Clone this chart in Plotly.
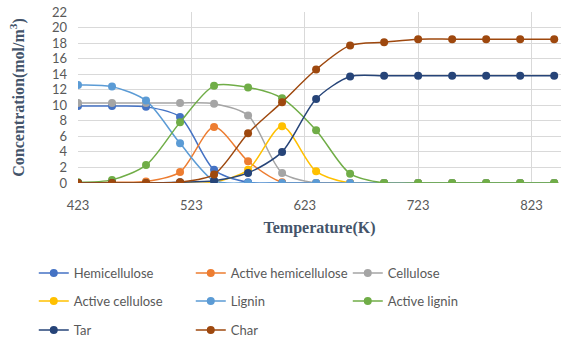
import plotly.graph_objects as go

temperature = [423, 453, 483, 513, 543, 573, 603, 633, 663, 693, 723, 753, 783, 813, 843]

hemicellulose = [9.9, 9.9, 9.8, 8.5, 1.7, 0.1, 0.0, 0.0, 0.0, 0.0, 0.0, 0.0, 0.0, 0.0, 0.0]
active_hemicellulose = [0.0, 0.1, 0.2, 1.4, 7.2, 2.8, 0.1, 0.0, 0.0, 0.0, 0.0, 0.0, 0.0, 0.0, 0.0]
cellulose = [10.3, 10.3, 10.3, 10.3, 10.2, 8.7, 1.3, 0.0, 0.0, 0.0, 0.0, 0.0, 0.0, 0.0, 0.0]
active_cellulose = [0.0, 0.0, 0.0, 0.0, 0.1, 1.7, 7.3, 1.5, 0.0, 0.0, 0.0, 0.0, 0.0, 0.0, 0.0]
lignin = [12.6, 12.4, 10.6, 5.1, 0.3, 0.0, 0.0, 0.0, 0.0, 0.0, 0.0, 0.0, 0.0, 0.0, 0.0]
active_lignin = [0.1, 0.4, 2.3, 7.8, 12.5, 12.3, 10.9, 6.8, 1.2, 0.0, 0.0, 0.0, 0.0, 0.0, 0.0]
tar = [0.0, 0.0, 0.0, 0.1, 0.3, 1.3, 4.0, 10.8, 13.7, 13.8, 13.8, 13.8, 13.8, 13.8, 13.8]
char = [0.0, 0.0, 0.0, 0.1, 1.1, 6.4, 10.4, 14.6, 17.7, 18.1, 18.5, 18.5, 18.5, 18.5, 18.5]

series = [
    ("Hemicellulose", hemicellulose, "#4472C4", "legend"),
    ("Active hemicellulose", active_hemicellulose, "#ED7D31", "legend"),
    ("Cellulose", cellulose, "#A5A5A5", "legend"),
    ("Active cellulose", active_cellulose, "#FFC000", "legend2"),
    ("Lignin", lignin, "#5B9BD5", "legend2"),
    ("Active lignin", active_lignin, "#70AD47", "legend2"),
    ("Tar", tar, "#264478", "legend3"),
    ("Char", char, "#9E480E", "legend3"),
]

fig = go.Figure()
for name, vals, color, lg in series:
    fig.add_trace(go.Scatter(
        x=temperature, y=vals, name=name, mode="lines+markers",
        line=dict(color=color, width=1.5, shape="spline", smoothing=0.8),
        marker=dict(color=color, size=8),
        legend=lg,
    ))

txt = "#595959"
title_col = "#44546A"
leg_common = dict(orientation="h", xref="container", yref="container",
                  xanchor="left", yanchor="middle", x=0.06,
                  font=dict(family="Lato", size=13, color=txt),
                  entrywidth=112, bgcolor="rgba(0,0,0,0)")

fig.update_layout(
    width=563, height=342,
    margin=dict(l=78, r=2, t=12, b=159),
    paper_bgcolor="white", plot_bgcolor="white",
    font=dict(family="Lato", size=12, color=txt),
    xaxis=dict(range=[423, 849], tick0=423, dtick=100, showgrid=True, automargin=False,
               gridcolor="#D9D9D9", gridwidth=1, zeroline=False, showline=False,
               ticks="", ticklabelstandoff=13, tickfont=dict(family="Lato", size=13, color=txt),
               title=dict(text="Temperature(K)", standoff=9,
                          font=dict(family="Liberation Serif", size=16, color=title_col, weight="bold"))),
    yaxis=dict(range=[0, 22], dtick=2, showgrid=True, gridcolor="#D9D9D9", automargin=False,
               gridwidth=1, zeroline=False, showline=False, ticks="", ticklabelstandoff=10,
               tickfont=dict(family="Lato", size=13, color=txt),
               title=dict(text="Concentration(mol/m<sup>3</sup>)", standoff=23,
                          font=dict(family="Liberation Serif", size=16, color=title_col, weight="bold"))),
    legend=dict(y=1 - 273 / 342, **leg_common),
    legend2=dict(y=1 - 301 / 342, **leg_common),
    legend3=dict(y=1 - 330 / 342, **leg_common),
)

fig.write_html("out.html", config={"displayModeBar": False},
               post_script="document.body.style.margin='0px';")
